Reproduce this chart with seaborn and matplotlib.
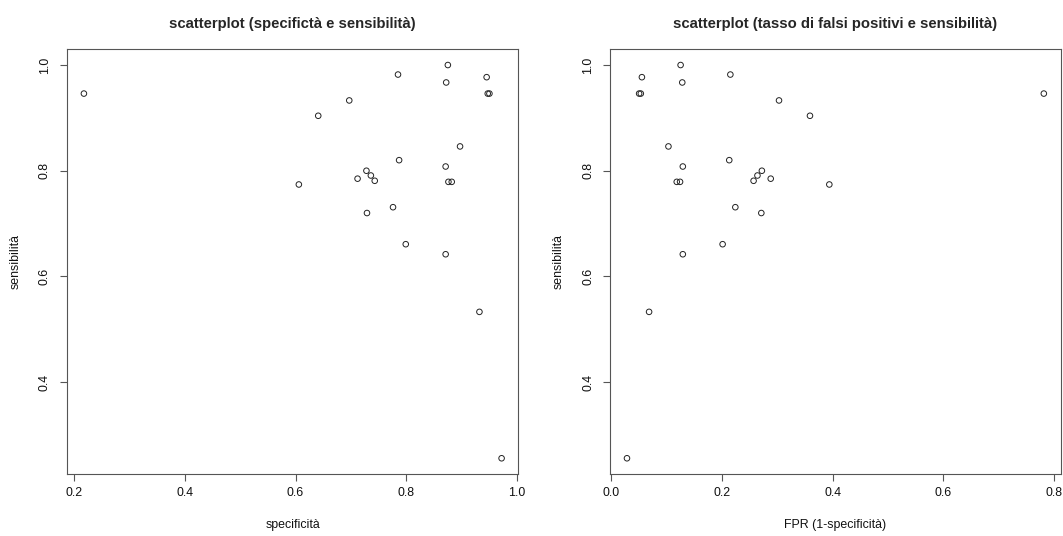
import matplotlib
matplotlib.use("Agg")
import matplotlib.pyplot as plt
import seaborn as sns
import pandas as pd

# Values
specificita = [0.875, 0.785, 0.872, 0.945, 0.947, 0.950, 0.697, 0.641, 0.897, 0.787,
               0.871, 0.728, 0.736, 0.712, 0.743, 0.606, 0.876, 0.882, 0.776, 0.729,
               0.799, 0.871, 0.218, 0.932, 0.972]
sensibilita = [1.000, 0.982, 0.967, 0.977, 0.946, 0.946, 0.933, 0.904, 0.846, 0.820,
               0.808, 0.800, 0.791, 0.785, 0.781, 0.774, 0.779, 0.779, 0.731, 0.720,
               0.661, 0.642, 0.946, 0.533, 0.256]
fpr = [0.125, 0.215, 0.128, 0.055, 0.053, 0.050, 0.303, 0.359, 0.103, 0.213,
       0.129, 0.272, 0.264, 0.288, 0.257, 0.394, 0.124, 0.118, 0.224, 0.271,
       0.201, 0.129, 0.782, 0.068, 0.028]

titles = ["scatterplot (specifictà e sensibilità)",
          "scatterplot (tasso di falsi positivi e sensibilità)"]
xlabels = ["specificità", "FPR (1-specificità)"]
ylabel = "sensibilità"
xticks_left = [0.2, 0.4, 0.6, 0.8, 1.0]
xticks_right = [0.0, 0.2, 0.4, 0.6, 0.8]
yticks = [0.4, 0.6, 0.8, 1.0]

sns.set_style("white")
plt.rcParams["font.family"] = ["Liberation Sans", "DejaVu Sans"]

df = pd.DataFrame({"spec": specificita, "fpr": fpr, "sens": sensibilita})

W, H = 1063, 536
fig = plt.figure(figsize=(W / 100, H / 100), dpi=100)
box_top, box_bot = 49.3, 474.0
positions = [
    [67.2 / W, 1 - box_bot / H, (518.3 - 67.2) / W, (box_bot - box_top) / H],
    [610.3 / W, 1 - box_bot / H, (1060.5 - 610.3) / W, (box_bot - box_top) / H],
]
xcols = ["spec", "fpr"]
xtick_sets = [xticks_left, xticks_right]
edge = "#555555"

for i in range(2):
    ax = fig.add_axes(positions[i])
    sns.scatterplot(data=df, x=xcols[i], y="sens", ax=ax, marker="o", s=16,
                    facecolors="none", edgecolor="#222222", linewidth=0.7)
    ax.margins(x=0.04, y=0.04)
    ax.set_xticks(xtick_sets[i])
    ax.set_xticklabels([f"{v:.1f}" for v in xtick_sets[i]])
    ax.set_yticks(yticks)
    ax.set_yticklabels([f"{v:.1f}" for v in yticks])
    for sp in ax.spines.values():
        sp.set_visible(True)
        sp.set_color(edge)
        sp.set_linewidth(0.8)
    ax.tick_params(axis="both", direction="out", length=5.2, width=0.8,
                   color=edge, labelsize=8.9, labelcolor="#111111")
    ax.tick_params(axis="x", pad=4.5, bottom=True)
    ax.tick_params(axis="y", pad=6.5, left=True)
    for lbl in ax.get_yticklabels():
        lbl.set_rotation(90)
        lbl.set_va("center")
    ax.set_title(titles[i], fontsize=10.7, fontweight="bold", pad=15)
    ax.set_xlabel(xlabels[i], fontsize=8.9, color="#111111")
    ax.set_ylabel(ylabel, fontsize=8.9, color="#111111")
    hpx = box_bot - box_top
    wpx = positions[i][2] * W
    ax.xaxis.set_label_coords(0.5, -(525 - box_bot) / hpx)
    ax.xaxis.label.set_va("center")
    ax.yaxis.set_label_coords(-(67.5 - 16) / wpx, 0.5)
    ax.yaxis.label.set_va("center")
    ax.grid(False)

fig.savefig("out.png", dpi=100, facecolor="white")
